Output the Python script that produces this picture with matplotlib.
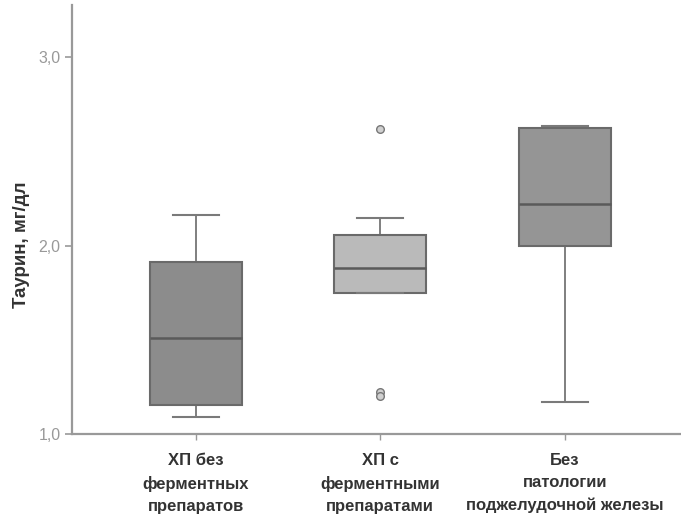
import matplotlib
matplotlib.use("Agg")
import matplotlib.pyplot as plt

plt.rcParams['font.family'] = ['Liberation Sans', 'DejaVu Sans']

groups = ["ХП без\nферментных\nпрепаратов",
          "ХП с\nферментными\nпрепаратами",
          "Без\nпатологии\nподжелудочной железы"]
whislo = [1.09, 1.75, 1.17]
q1 = [1.155, 1.75, 2.0]
med = [1.51, 1.88, 2.22]
q3 = [1.915, 2.055, 2.625]
whishi = [2.165, 2.145, 2.635]
fliers = [[], [2.62, 1.22, 1.20], []]
box_colors = ["#8c8c8c", "#bababa", "#959595"]

stats = []
for i in range(len(groups)):
    stats.append({"whislo": whislo[i], "q1": q1[i], "med": med[i],
                  "q3": q3[i], "whishi": whishi[i], "fliers": fliers[i]})

fig = plt.figure(figsize=(6.81, 5.17), dpi=100)
ax = fig.add_axes([0.106, 0.161, 0.894, 0.83])

bp = ax.bxp(stats, positions=[0, 1, 2], widths=0.5, patch_artist=True,
            showfliers=True,
            boxprops=dict(edgecolor="#6a6a6a", linewidth=1.5),
            medianprops=dict(color="#5a5a5a", linewidth=1.8),
            whiskerprops=dict(color="#6a6a6a", linewidth=1.2),
            capprops=dict(color="#7a7a7a", linewidth=1.5),
            capwidths=0.25,
            flierprops=dict(marker="o", markersize=5.5, markerfacecolor="#d0d0d0",
                            markeredgecolor="#777777", markeredgewidth=1.0))
for patch, c in zip(bp["boxes"], box_colors):
    patch.set_facecolor(c)

ax.set_xlim(-0.67, 2.63)
ax.set_ylim(1.0, 3.28)
ax.set_yticks([1.0, 2.0, 3.0])
ax.set_yticklabels(["1,0", "2,0", "3,0"])
ax.set_xticks([0, 1, 2])
ax.set_xticklabels(groups, fontsize=12, fontweight="bold", color="#333333",
                   linespacing=1.58)

ax.tick_params(axis="y", colors="#999999", labelsize=11.5, length=5, width=1.2)
ax.tick_params(axis="x", length=4, width=1.0, color="#999999", pad=10)
ax.set_ylabel("Таурин, мг/дл", fontsize=13.5, fontweight="bold", color="#333333")
ax.yaxis.set_label_coords(-0.07, 0.44)

for side in ["top", "right"]:
    ax.spines[side].set_visible(False)
for side in ["left", "bottom"]:
    ax.spines[side].set_color("#999999")
    ax.spines[side].set_linewidth(1.6)

fig.savefig("out.png", dpi=100, facecolor="white")
